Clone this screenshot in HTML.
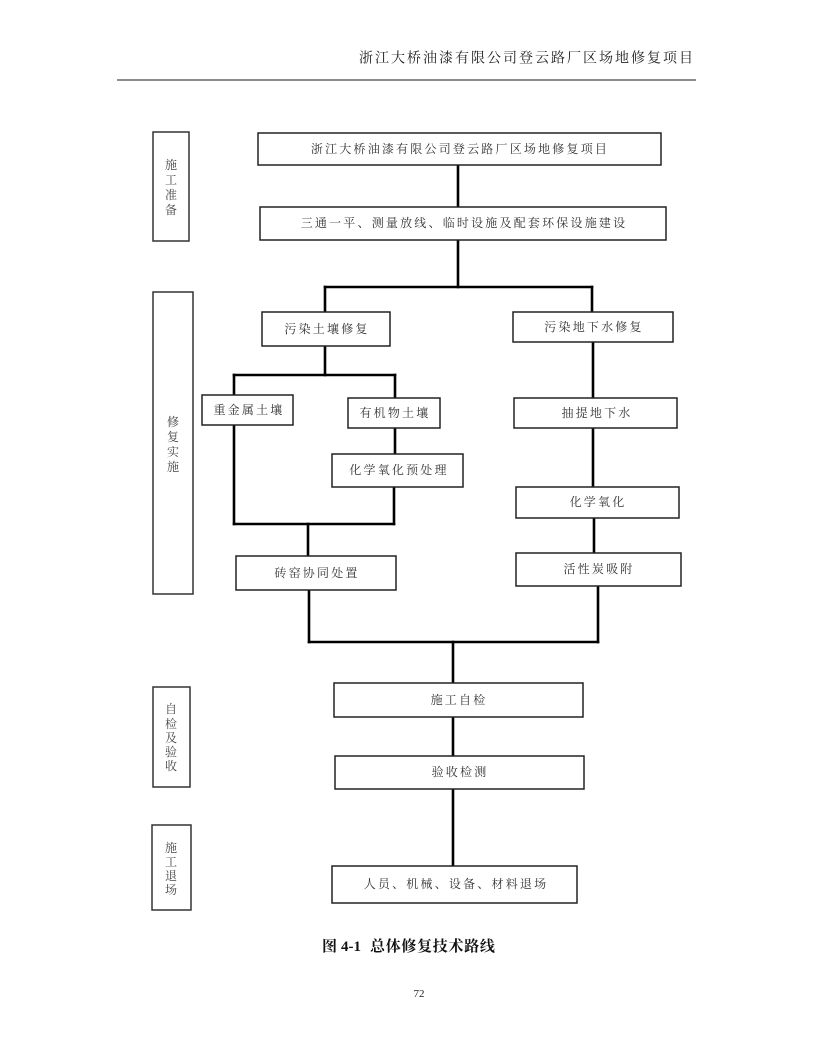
<!DOCTYPE html>
<html>
<head>
<meta charset="utf-8">
<style>
  html, body { margin: 0; padding: 0; background: #fff; }
  body { width: 816px; height: 1056px; position: relative; overflow: hidden; }
  svg { position: absolute; left: 0; top: 0; }
  .hdr { font-family: "Liberation Serif", "Noto Serif CJK SC", serif; font-size: 14px; letter-spacing: 2px; fill: #222; }
  .bx { font-family: "Liberation Serif", "Noto Serif CJK SC", serif; font-size: 12px; letter-spacing: 2.2px; fill: #333; }
  .lb { font-family: "Liberation Serif", "Noto Serif CJK SC", serif; font-size: 12px; fill: #444; }
  .cap { font-family: "Liberation Serif", "Noto Serif CJK SC", serif; font-size: 15px; font-weight: bold; fill: #111; }
  .pg { font-family: "Liberation Serif", serif; font-size: 11px; fill: #222; }
</style>
</head>
<body>
<svg width="816" height="1056" viewBox="0 0 816 1056" xmlns="http://www.w3.org/2000/svg">
  <!-- header -->
  <text class="hdr" x="695" y="59" text-anchor="end" dominant-baseline="central">浙江大桥油漆有限公司登云路厂区场地修复项目</text>
  <line x1="117" y1="80" x2="696" y2="80" stroke="#666" stroke-width="1.5"/>

  <!-- left stage label boxes -->
  <g fill="#fff" stroke="#333" stroke-width="1.5">
    <rect x="153" y="132" width="36" height="109"/>
    <rect x="153" y="292" width="40" height="302"/>
    <rect x="153" y="687" width="37" height="100"/>
    <rect x="152" y="825" width="39" height="85"/>
  </g>
  <g class="lb" text-anchor="middle" dominant-baseline="central">
    <text x="171" y="165">施</text>
    <text x="171" y="180">工</text>
    <text x="171" y="195">准</text>
    <text x="171" y="210">备</text>

    <text x="173" y="422">修</text>
    <text x="173" y="437">复</text>
    <text x="173" y="452">实</text>
    <text x="173" y="467">施</text>

    <text x="171" y="709">自</text>
    <text x="171" y="724">检</text>
    <text x="171" y="738">及</text>
    <text x="171" y="752">验</text>
    <text x="171" y="766">收</text>

    <text x="171" y="848">施</text>
    <text x="171" y="862">工</text>
    <text x="171" y="876">退</text>
    <text x="171" y="890">场</text>
  </g>

  <!-- connectors -->
  <g stroke="#000" stroke-width="2.6" fill="none" stroke-linecap="square">
    <line x1="458" y1="165" x2="458" y2="207"/>
    <line x1="458" y1="240" x2="458" y2="287"/>
    <line x1="325" y1="287" x2="592" y2="287"/>
    <line x1="325" y1="287" x2="325" y2="312"/>
    <line x1="592" y1="287" x2="592" y2="312"/>

    <line x1="325" y1="346" x2="325" y2="375"/>
    <line x1="234" y1="375" x2="395" y2="375"/>
    <line x1="234" y1="375" x2="234" y2="395"/>
    <line x1="395" y1="375" x2="395" y2="398"/>
    <line x1="395" y1="428" x2="395" y2="454"/>

    <line x1="234" y1="425" x2="234" y2="524"/>
    <line x1="394" y1="487" x2="394" y2="524"/>
    <line x1="234" y1="524" x2="394" y2="524"/>
    <line x1="308" y1="524" x2="308" y2="556"/>

    <line x1="593" y1="342" x2="593" y2="398"/>
    <line x1="593" y1="428" x2="593" y2="487"/>
    <line x1="594" y1="518" x2="594" y2="553"/>

    <line x1="309" y1="590" x2="309" y2="642"/>
    <line x1="598" y1="586" x2="598" y2="642"/>
    <line x1="309" y1="642" x2="598" y2="642"/>
    <line x1="453" y1="642" x2="453" y2="683"/>
    <line x1="453" y1="717" x2="453" y2="756"/>
    <line x1="453" y1="789" x2="453" y2="866"/>
  </g>

  <!-- process boxes -->
  <g fill="#fff" stroke="#222" stroke-width="1.5">
    <rect x="258" y="133" width="403" height="32"/>
    <rect x="260" y="207" width="406" height="33"/>
    <rect x="262" y="312" width="128" height="34"/>
    <rect x="513" y="312" width="160" height="30"/>
    <rect x="202" y="395" width="91" height="30"/>
    <rect x="348" y="398" width="92" height="30"/>
    <rect x="514" y="398" width="163" height="30"/>
    <rect x="332" y="454" width="131" height="33"/>
    <rect x="516" y="487" width="163" height="31"/>
    <rect x="236" y="556" width="160" height="34"/>
    <rect x="516" y="553" width="165" height="33"/>
    <rect x="334" y="683" width="249" height="34"/>
    <rect x="335" y="756" width="249" height="33"/>
    <rect x="332" y="866" width="245" height="37"/>
  </g>

  <g class="bx" text-anchor="middle" dominant-baseline="central">
    <text x="460" y="149">浙江大桥油漆有限公司登云路厂区场地修复项目</text>
    <text x="464" y="223">三通一平、测量放线、临时设施及配套环保设施建设</text>
    <text x="327" y="329">污染土壤修复</text>
    <text x="594" y="327">污染地下水修复</text>
    <text x="249" y="410">重金属土壤</text>
    <text x="395" y="413">有机物土壤</text>
    <text x="597" y="413">抽提地下水</text>
    <text x="399" y="470">化学氧化预处理</text>
    <text x="598" y="502">化学氧化</text>
    <text x="317" y="573">砖窑协同处置</text>
    <text x="599" y="569">活性炭吸附</text>
    <text x="459" y="700">施工自检</text>
    <text x="460" y="772">验收检测</text>
    <text x="456" y="884">人员、机械、设备、材料退场</text>
  </g>

  <!-- caption -->
  <g class="cap" dominant-baseline="central">
    <text x="322" y="947">图</text>
    <text x="341" y="947">4-1</text>
    <text x="370" y="947" letter-spacing="0.7">总体修复技术路线</text>
  </g>

  <!-- page number -->
  <text class="pg" x="419" y="994" text-anchor="middle" dominant-baseline="central">72</text>
</svg>
</body>
</html>
